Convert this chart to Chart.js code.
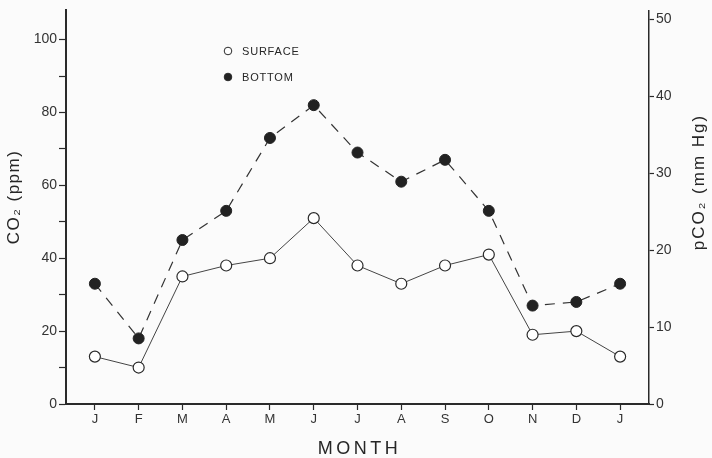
<!DOCTYPE html>
<html>
<head>
<meta charset="utf-8">
<script src="https://cdn.jsdelivr.net/npm/chart.js@4/dist/chart.umd.min.js"></script>
<style>
  html, body { margin: 0; padding: 0; background: #fbfbfb; }
  canvas { display: block; }
</style>
</head>
<body>
<canvas id="co2Chart" width="712" height="458"></canvas>
<script>
// Data (CO2 in ppm, left axis)
const months = ['J', 'F', 'M', 'A', 'M', 'J', 'J', 'A', 'S', 'O', 'N', 'D', 'J'];
const surfaceCO2 = [13, 10, 35, 38, 40, 51, 38, 33, 38, 41, 19, 20, 13];
const bottomCO2 = [33, 18, 45, 53, 73, 82, 69, 61, 67, 53, 27, 28, 33];
const leftTitle = 'CO₂ (ppm)';
const rightTitle = 'pCO₂ (mm Hg)';
const xTitle = 'MONTH';

const ink = '#2a2a2a';
const textColor = '#262626';
const family = '"Liberation Sans", Arial, sans-serif';
Chart.defaults.font.family = family;
Chart.defaults.color = '#333';

const toPoints = vals => vals.map((v, i) => ({ x: i, y: v }));

// Titles and legend drawn by hand (right title reads bottom-to-top, legend sits inside the plot)
const annotations = {
    id: 'annotations',
    afterDraw(chart) {
        const ctx = chart.ctx;
        const area = chart.chartArea;
        ctx.save();
        ctx.fillStyle = textColor;
        ctx.textAlign = 'center';
        ctx.textBaseline = 'middle';
        ctx.font = '17px ' + family;

        ctx.letterSpacing = '1.5px';
        ctx.save();
        ctx.translate(14, 197);
        ctx.rotate(-Math.PI / 2);
        ctx.fillText(leftTitle, 0, 0);
        ctx.restore();

        ctx.letterSpacing = '2px';
        ctx.save();
        ctx.translate(699, 182);
        ctx.rotate(-Math.PI / 2);
        ctx.fillText(rightTitle, 0, 0);
        ctx.restore();

        ctx.font = '18px ' + family;
        ctx.letterSpacing = '3.5px';
        ctx.fillText(xTitle, (area.left + area.right) / 2 + 2, 449);

        // legend
        ctx.letterSpacing = '0.8px';
        ctx.font = '11px ' + family;
        ctx.textAlign = 'left';
        chart.data.datasets.forEach((ds, i) => {
            const y = 51 + i * 26;
            ctx.beginPath();
            ctx.arc(228, y, 3.8, 0, Math.PI * 2);
            ctx.fillStyle = ds.pointBackgroundColor;
            ctx.fill();
            ctx.lineWidth = 1;
            ctx.strokeStyle = ink;
            ctx.stroke();
            ctx.fillStyle = textColor;
            ctx.fillText(ds.label, 242, y + 1);
        });
        ctx.restore();
    }
};

new Chart(document.getElementById('co2Chart'), {
    type: 'line',
    data: {
        datasets: [
            {
                label: 'SURFACE',
                data: toPoints(surfaceCO2),
                borderColor: '#444',
                borderWidth: 1,
                pointRadius: 5.5,
                pointBorderWidth: 1.2,
                pointBorderColor: ink,
                pointBackgroundColor: '#ffffff',
                yAxisID: 'y'
            },
            {
                label: 'BOTTOM',
                data: toPoints(bottomCO2),
                borderColor: '#333',
                borderWidth: 1.2,
                borderDash: [10, 8],
                pointRadius: 5.5,
                pointBorderWidth: 1,
                pointBorderColor: '#222',
                pointBackgroundColor: '#222',
                yAxisID: 'y'
            }
        ]
    },
    options: {
        responsive: false,
        animation: false,
        layout: { padding: { top: 10, left: 0, right: 0, bottom: 0 } },
        plugins: {
            legend: { display: false },
            tooltip: { enabled: false }
        },
        scales: {
            x: {
                type: 'linear',
                min: -0.66,
                max: 12.66,
                afterFit: s => { s.height = 54; },
                border: { color: ink, width: 2 },
                grid: { drawOnChartArea: false, tickLength: 6, tickColor: ink, tickWidth: 1.2 },
                ticks: {
                    stepSize: 1,
                    includeBounds: false,
                    autoSkip: false,
                    maxRotation: 0,
                    padding: 2,
                    font: { size: 13 },
                    callback: v => Number.isInteger(v) ? months[v] : ''
                }
            },
            y: {
                position: 'left',
                min: 0,
                max: 108,
                afterFit: s => { s.width = 66; },
                border: { color: ink, width: 2 },
                grid: { drawOnChartArea: false, tickLength: 7, tickColor: ink, tickWidth: 1.2 },
                ticks: {
                    stepSize: 10,
                    includeBounds: false,
                    padding: 2,
                    font: { size: 14 },
                    callback: v => v % 20 === 0 ? v : ''
                }
            },
            y2: {
                position: 'right',
                min: 0,
                max: 51.2,
                afterFit: s => { s.width = 63; },
                border: { color: ink, width: 1.5 },
                grid: { drawOnChartArea: false, tickLength: 5, tickColor: ink, tickWidth: 1.2 },
                ticks: {
                    stepSize: 10,
                    includeBounds: false,
                    padding: 2,
                    font: { size: 14 }
                }
            }
        }
    },
    plugins: [annotations]
});
</script>
</body>
</html>
